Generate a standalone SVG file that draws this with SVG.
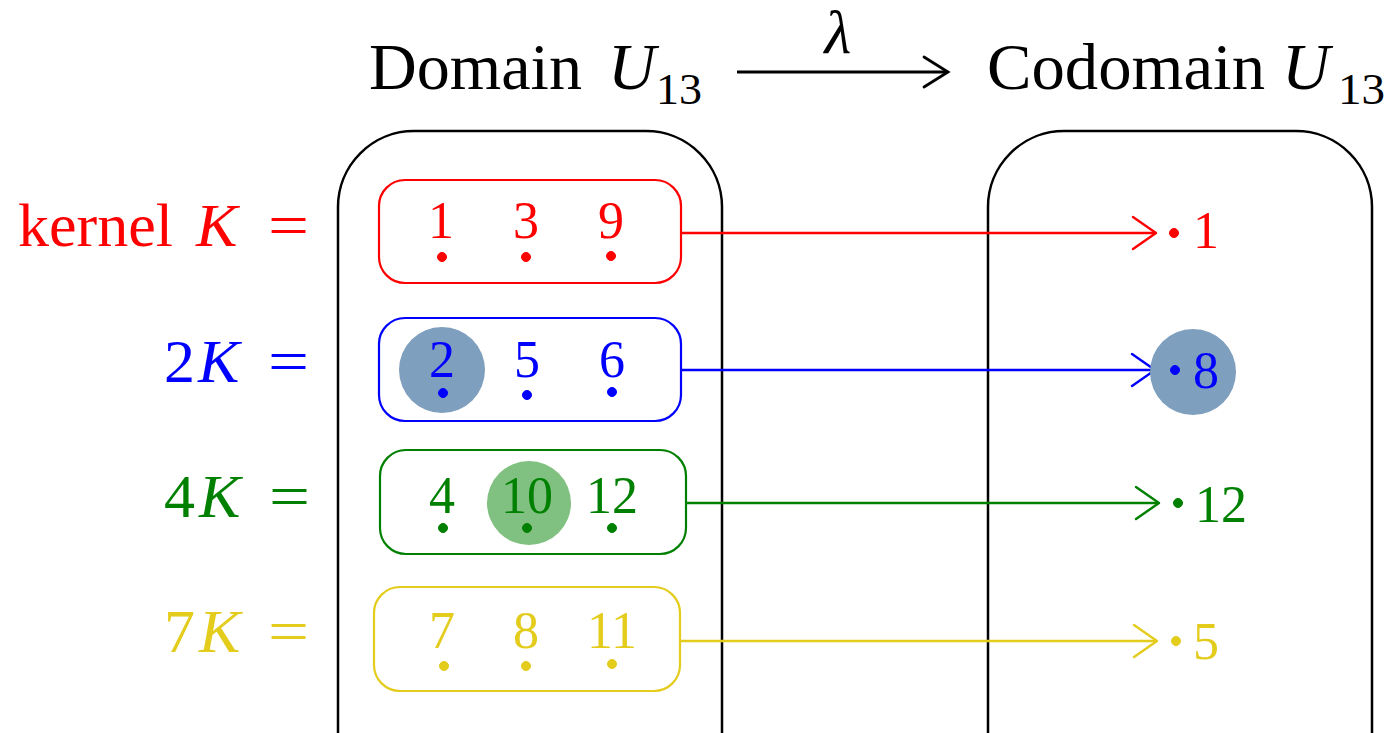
<svg xmlns="http://www.w3.org/2000/svg" width="1393" height="733" viewBox="0 0 1393 733">
  <style>
    text { font-family: "Liberation Serif", "DejaVu Serif", serif; }
    .title { font-size: 66px; fill: #000; }
    .it { font-style: italic; }
    .sub { font-size: 44px; }
    .lbl { font-size: 62px; }
    .num { font-size: 52px; text-anchor: middle; }
    .rnum { font-size: 52px; }
    .set { fill: none; stroke: #000; stroke-width: 2.5; }
    .cls { fill: #fff; stroke-width: 2.2; }
    .red { fill: #ff0000; stroke: #ff0000; }
    .blue { fill: #0000ff; stroke: #0000ff; }
    .green { fill: #008000; stroke: #008000; }
    .yellow { fill: #e3cc1c; stroke: #e3cc1c; }
    text.red, text.blue, text.green, text.yellow { stroke: none; }
    .link { fill: none; stroke-width: 2.4; }
    .head { fill: none; stroke-width: 2.4; stroke-linecap: round; stroke-linejoin: round; }
  </style>

  <!-- heading: Domain U13, lambda arrow, Codomain U13 -->
  <g id="heading">
    <text class="title" y="89"><tspan x="369" textLength="213" lengthAdjust="spacingAndGlyphs">Domain</tspan><tspan class="it" x="608">U</tspan><tspan class="sub" x="656" y="104" textLength="46" lengthAdjust="spacingAndGlyphs">13</tspan></text>
    <text class="title" y="89"><tspan x="987" textLength="278" lengthAdjust="spacingAndGlyphs">Codomain</tspan><tspan class="it" x="1282">U</tspan><tspan class="sub" x="1338" y="104" textLength="47" lengthAdjust="spacingAndGlyphs">13</tspan></text>
    <line x1="737" y1="72" x2="948" y2="72" stroke="#000" stroke-width="2.8"/>
    <polyline points="924,57 948,72 924,87" fill="none" stroke="#000" stroke-width="2.8" stroke-linecap="round"/>
    <text class="it" x="838" y="53" font-size="62" text-anchor="middle">λ</text>
  </g>

  <!-- the two sets -->
  <g id="domain"><rect class="set" x="338" y="131" width="384" height="700" rx="76"/></g>
  <g id="codomain"><rect class="set" x="988" y="131" width="384" height="700" rx="76"/></g>

  <!-- coset labels -->
  <g id="labels">
    <text class="lbl red" y="246"><tspan x="18" textLength="155" lengthAdjust="spacingAndGlyphs">kernel</tspan><tspan class="it" x="196">K</tspan><tspan x="268" textLength="41" lengthAdjust="spacingAndGlyphs">=</tspan></text>
    <text class="lbl blue" y="382"><tspan x="164">2</tspan><tspan class="it" x="198">K</tspan><tspan x="268" textLength="41" lengthAdjust="spacingAndGlyphs">=</tspan></text>
    <text class="lbl green" y="517"><tspan x="164">4</tspan><tspan class="it" x="199">K</tspan><tspan x="269" textLength="41" lengthAdjust="spacingAndGlyphs">=</tspan></text>
    <text class="lbl yellow" y="652"><tspan x="164">7</tspan><tspan class="it" x="199">K</tspan><tspan x="268" textLength="41" lengthAdjust="spacingAndGlyphs">=</tspan></text>
  </g>

  <!-- connectors -->
  <g id="connectors">
    <line class="link red" x1="681" y1="233" x2="1156" y2="233"/>
    <polyline class="head red" points="1133,217 1156,233 1133,249"/>
    <line class="link blue" x1="681" y1="370" x2="1155" y2="370"/>
    <polyline class="head blue" points="1132,354 1155,370 1132,386"/>
    <line class="link green" x1="686" y1="503" x2="1159" y2="503"/>
    <polyline class="head green" points="1136,487 1159,503 1136,519"/>
    <line class="link yellow" x1="681" y1="641" x2="1157" y2="641"/>
    <polyline class="head yellow" points="1134,625 1157,641 1134,657"/>
  </g>

  <!-- kernel K = {1, 3, 9} -->
  <g id="coset-k">
    <rect class="cls" x="379" y="180" width="302" height="103" rx="26" style="stroke:#ff0000"/>
    <g class="red">
      <circle cx="442" cy="257" r="4.5"/><circle cx="526" cy="257" r="4.5"/><circle cx="611" cy="256" r="4.5"/>
    </g>
    <text class="num red" x="441" y="238">1</text>
    <text class="num red" x="526" y="238">3</text>
    <text class="num red" x="611" y="238">9</text>
  </g>

  <!-- 2K = {2, 5, 6} -->
  <g id="coset-2k">
    <rect class="cls" x="379" y="318" width="302" height="103" rx="26" style="stroke:#0000ff"/>
    <circle cx="442" cy="370" r="43" fill="#7f9fbf"/>
    <g class="blue">
      <circle cx="443" cy="393" r="4.5"/><circle cx="527" cy="395" r="4.5"/><circle cx="612" cy="392" r="4.5"/>
    </g>
    <text class="num blue" x="442" y="377">2</text>
    <text class="num blue" x="527" y="377">5</text>
    <text class="num blue" x="612" y="377">6</text>
  </g>

  <!-- 4K = {4, 10, 12} -->
  <g id="coset-4k">
    <rect class="cls" x="380" y="450" width="306" height="104" rx="26" style="stroke:#008000"/>
    <circle cx="529" cy="503" r="42" fill="#80c080"/>
    <g class="green">
      <circle cx="443" cy="528" r="4.5"/><circle cx="527" cy="528" r="4.5"/><circle cx="612" cy="528" r="4.5"/>
    </g>
    <text class="num green" x="442" y="513">4</text>
    <text class="num green" x="527" y="513">10</text>
    <text class="num green" x="612" y="513">12</text>
  </g>

  <!-- 7K = {7, 8, 11} -->
  <g id="coset-7k">
    <rect class="cls" x="374" y="587" width="306" height="104" rx="26" style="stroke:#e3cc1c"/>
    <g class="yellow">
      <circle cx="444" cy="666" r="4.5"/><circle cx="526" cy="666" r="4.5"/><circle cx="612" cy="664" r="4.5"/>
    </g>
    <text class="num yellow" x="442" y="648">7</text>
    <text class="num yellow" x="526" y="648">8</text>
    <text class="num yellow" x="612" y="648">11</text>
  </g>

  <!-- images in the codomain -->
  <g id="image-1">
    <circle class="red" cx="1174" cy="233" r="4.5"/>
    <text class="rnum red" x="1193" y="248">1</text>
  </g>
  <g id="image-8">
    <circle cx="1193" cy="372" r="43" fill="#7f9fbf"/>
    <circle class="blue" cx="1175" cy="370" r="4.5"/>
    <text class="rnum blue" x="1193" y="388">8</text>
  </g>
  <g id="image-12">
    <circle class="green" cx="1178" cy="503" r="4.5"/>
    <text class="rnum green" x="1195" y="522">12</text>
  </g>
  <g id="image-5">
    <circle class="yellow" cx="1176" cy="641" r="4.5"/>
    <text class="rnum yellow" x="1193" y="659">5</text>
  </g>
</svg>
